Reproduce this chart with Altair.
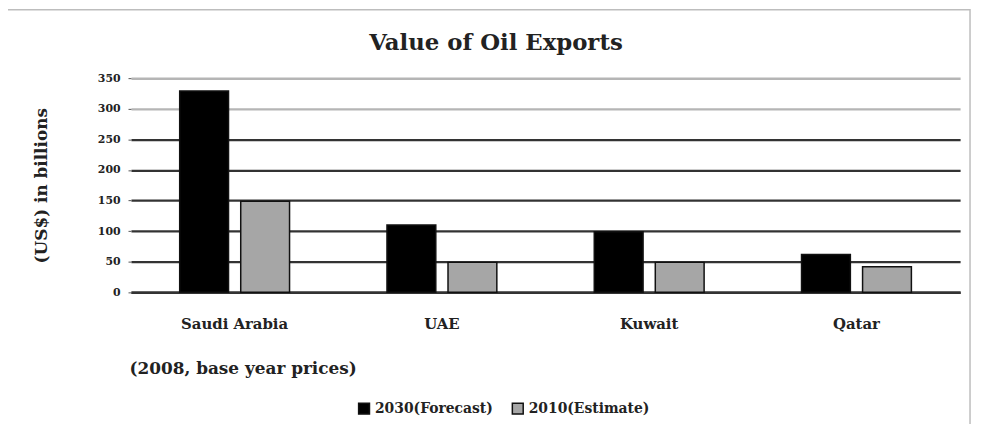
import altair as alt
import pandas as pd

countries = ["Saudi Arabia", "UAE", "Kuwait", "Qatar"]
series = ["2030(Forecast)", "2010(Estimate)"]
values_a = [329, 110, 99, 62]
values_b = [149, 49, 49, 42]
y_ticks = [0, 50, 100, 150, 200, 250, 300, 350]
chart_title = "Value of Oil Exports"

rows = []
for c, a, b in zip(countries, values_a, values_b):
    rows.append({"country": c, "series": series[0], "value": a})
    rows.append({"country": c, "series": series[1], "value": b})
df = pd.DataFrame(rows)

FONT = "DejaVu Serif"

frame = alt.Chart(pd.DataFrame({"k": [0]})).mark_rect(
    fill=None, stroke="#BDBDBD", strokeWidth=1.5, clip=False
).encode(
    x=alt.value(-127), x2=alt.value(846), y=alt.value(-69), y2=alt.value(362)
)

title_mark = alt.Chart(pd.DataFrame({"t": [chart_title]})).mark_text(
    font=FONT, fontSize=23, fontWeight="bold", color="#222",
    align="center", baseline="middle"
).encode(text="t:N", x=alt.value(368), y=alt.value(-35))

bars = alt.Chart(df).mark_bar(stroke="#111111", strokeWidth=1.5).encode(
    x=alt.X("country:N", sort=countries,
            scale=alt.Scale(paddingInner=0.47, paddingOuter=0.235),
            axis=alt.Axis(title="(2008, base year prices)", labelAngle=0,
                          labelFont=FONT, labelFontSize=15, labelFontWeight="bold",
                          labelColor="#222", labelPadding=24, ticks=False,
                          domainColor="#333", domainWidth=2.5,
                          titleFont=FONT, titleFontSize=17, titleFontWeight="bold",
                          titleColor="#222", titleAnchor="start", titleAlign="left",
                          titleX=-2, titleY=77, titleBaseline="middle")),
    xOffset=alt.XOffset("series:N", sort=series, scale=alt.Scale(paddingInner=0.2)),
    y=alt.Y("value:Q", scale=alt.Scale(domain=[0, 350]),
            axis=alt.Axis(title="(US$) in billions", values=y_ticks,
                          labelFont=FONT, labelFontSize=11, labelFontWeight="bold",
                          labelColor="#222", labelPadding=8, tickSize=3,
                          tickColor="#555", domain=False,
                          gridColor={"condition": {"test": "datum.value >= 300", "value": "#B5B5B5"}, "value": "#333333"},
                          gridWidth=2.5,
                          titleFont=FONT, titleFontSize=17, titleFontWeight="bold",
                          titleColor="#222", titleX=-90, titleY=108,
                          titleBaseline="middle", titleAlign="center")),
    color=alt.Color("series:N", sort=series,
                    scale=alt.Scale(domain=series, range=["#000000", "#A6A6A6"]),
                    legend=alt.Legend(title=None, orient="none", direction="horizontal",
                                      legendX=228, legendY=326, symbolType="square",
                                      symbolSize=120, symbolStrokeColor="#111",
                                      symbolStrokeWidth=1.5, labelFont=FONT,
                                      labelFontSize=14, labelFontWeight="bold",
                                      labelColor="#222", columnPadding=16)),
)

chart = alt.layer(frame, bars, title_mark).properties(
    width=836, height=216,
    autosize=alt.AutoSizeParams(type="none"),
    padding={"left": 124, "top": 69, "right": 13, "bottom": 131},
).configure_view(stroke=None)

chart.save("out.html", embed_options={"renderer": "svg", "actions": False})
